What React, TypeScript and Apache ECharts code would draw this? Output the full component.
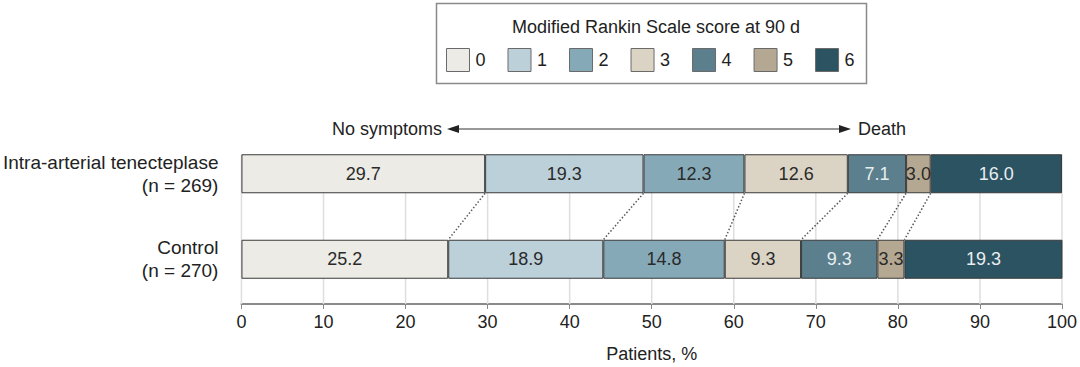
import React, { useEffect, useRef } from "react";
import * as echarts from "echarts";

const categories = ["Intra-arterial tenecteplase\n(n = 269)", "Control\n(n = 270)"];
const scores = ["0", "1", "2", "3", "4", "5", "6"];
const tenecteplase = [29.7, 19.3, 12.3, 12.6, 7.1, 3.0, 16.0];
const control = [25.2, 18.9, 14.8, 9.3, 9.3, 3.3, 19.3];
const tickValues = [0, 10, 20, 30, 40, 50, 60, 70, 80, 90, 100];

const colors = ["#ecebe5", "#bcd0da", "#86a9b8", "#dbd4c5", "#5b7f8d", "#b4a892", "#2c5362"];
const labelColors = ["#2a2a2a", "#2a2a2a", "#2a2a2a", "#2a2a2a", "#e8eef0", "#2a2a2a", "#e8eef0"];

const FONT = "'Liberation Sans', Arial, sans-serif";
const BAR_W = 39;

function cumulative(arr: number[]) {
  const out: number[] = [];
  let s = 0;
  for (let i = 0; i < arr.length - 1; i++) {
    s += arr[i];
    out.push(s);
  }
  return out;
}

export default function App() {
  const ref = useRef<HTMLDivElement>(null);
  useEffect(() => {
    if (!ref.current) return;
    const chart = echarts.init(ref.current, null, { renderer: "svg" });
    const cumTop = cumulative(tenecteplase);
    const cumBot = cumulative(control);
    const connectorData = cumTop.map((v, i) => [v, cumBot[i]]);

    const barSeries = scores.map((s, i) => ({
      name: s,
      type: "bar",
      stack: "mrs",
      barWidth: BAR_W,
      z: 3,
      data: [tenecteplase[i], control[i]],
      itemStyle: { color: colors[i], borderColor: "#3a3a3a", borderWidth: 1 },
      label: {
        show: true,
        position: "inside",
        formatter: (p: any) => Number(p.value).toFixed(1),
        color: labelColors[i],
        fontFamily: FONT,
        fontSize: 18,
      },
      emphasis: { disabled: true },
    }));

    const option: any = {
      animation: false,
      textStyle: { fontFamily: FONT },
      title: {
        text: "Modified Rankin Scale score at 90 d",
        left: 651,
        top: 13,
        textAlign: "center",
        textStyle: { fontFamily: FONT, fontSize: 18, fontWeight: "normal", color: "#222" },
      },
      legend: {
        data: scores,
        left: 441,
        top: 43,
        itemWidth: 23,
        itemHeight: 23,
        itemGap: 22,
        icon: "rect",
        selectedMode: false,
        textStyle: { fontFamily: FONT, fontSize: 18, color: "#222", padding: [0, 0, 0, 1] },
        itemStyle: { borderColor: "#6a6a6a", borderWidth: 1 },
      },
      grid: { left: 241, right: 18, top: 131, bottom: 65, containLabel: false },
      xAxis: {
        type: "value",
        min: 0,
        max: 100,
        interval: 10,
        offset: 2,
        name: "Patients, %",
        nameLocation: "middle",
        nameGap: 41,
        nameTextStyle: { fontFamily: FONT, fontSize: 18, color: "#222" },
        axisLine: { show: true, lineStyle: { color: "#8a8a8a", width: 2 } },
        axisTick: { show: true, length: 5, lineStyle: { color: "#8a8a8a", width: 1 } },
        axisLabel: { fontFamily: FONT, fontSize: 18, color: "#222", margin: 9 },
        splitLine: { show: false },
      },
      yAxis: {
        type: "category",
        data: categories,
        inverse: true,
        axisLine: { show: false },
        axisTick: { show: false },
        axisLabel: {
          fontFamily: FONT,
          fontSize: 19,
          lineHeight: 23,
          color: "#222",
          margin: 23,
          align: "right",
        },
      },
      graphic: [
        {
          type: "rect",
          shape: { x: 436.5, y: 3.5, width: 430, height: 80 },
          style: { fill: "none", stroke: "#8a8a8a", lineWidth: 1.5 },
          silent: true,
        },
        {
          type: "line",
          shape: { x1: 456, y1: 129, x2: 842, y2: 129 },
          style: { stroke: "#333", lineWidth: 1 },
          silent: true,
        },
        {
          type: "polygon",
          shape: { points: [[447, 129], [459, 125], [459, 133]] },
          style: { fill: "#222" },
          silent: true,
        },
        {
          type: "polygon",
          shape: { points: [[851, 129], [839, 125], [839, 133]] },
          style: { fill: "#222" },
          silent: true,
        },
        {
          type: "text",
          x: 442,
          y: 129,
          style: {
            text: "No symptoms",
            align: "right",
            verticalAlign: "middle",
            fontFamily: FONT,
            fontSize: 18,
            fill: "#222",
          },
          silent: true,
        },
        {
          type: "text",
          x: 858,
          y: 129,
          style: {
            text: "Death",
            align: "left",
            verticalAlign: "middle",
            fontFamily: FONT,
            fontSize: 18,
            fill: "#222",
          },
          silent: true,
        },
      ],
      series: [
        {
          type: "custom",
          name: "gridlines",
          z: 1,
          silent: true,
          data: tickValues.map((v) => [v, 0]),
          encode: { x: 0, y: 1 },
          renderItem: (params: any, api: any) => {
            const v = api.value(0);
            const p0 = api.coord([v, 0]);
            const p1 = api.coord([v, 1]);
            const band = api.size([0, 1])[1];
            return {
              type: "line",
              shape: { x1: p0[0], y1: p0[1] - BAR_W / 2, x2: p1[0], y2: p1[1] + band / 2 + 2 },
              style: { stroke: "#dedede", lineWidth: 1.5 },
            };
          },
        },
        ...barSeries,
        {
          type: "custom",
          name: "connectors",
          z: 4,
          silent: true,
          data: connectorData,
          encode: { x: [0, 1] },
          renderItem: (params: any, api: any) => {
            const a = api.coord([api.value(0), 0]);
            const b = api.coord([api.value(1), 1]);
            return {
              type: "line",
              shape: { x1: a[0], y1: a[1] + BAR_W / 2, x2: b[0], y2: b[1] - BAR_W / 2 },
              style: { stroke: "#555", lineWidth: 1.5, lineDash: [1.5, 2] },
            };
          },
        },
      ],
    };
    chart.setOption(option);
    return () => chart.dispose();
  }, []);
  return (
    <div
      ref={ref}
      style={{ position: "fixed", left: 0, top: 0, width: 1080, height: 367, background: "#fff" }}
    />
  );
}
